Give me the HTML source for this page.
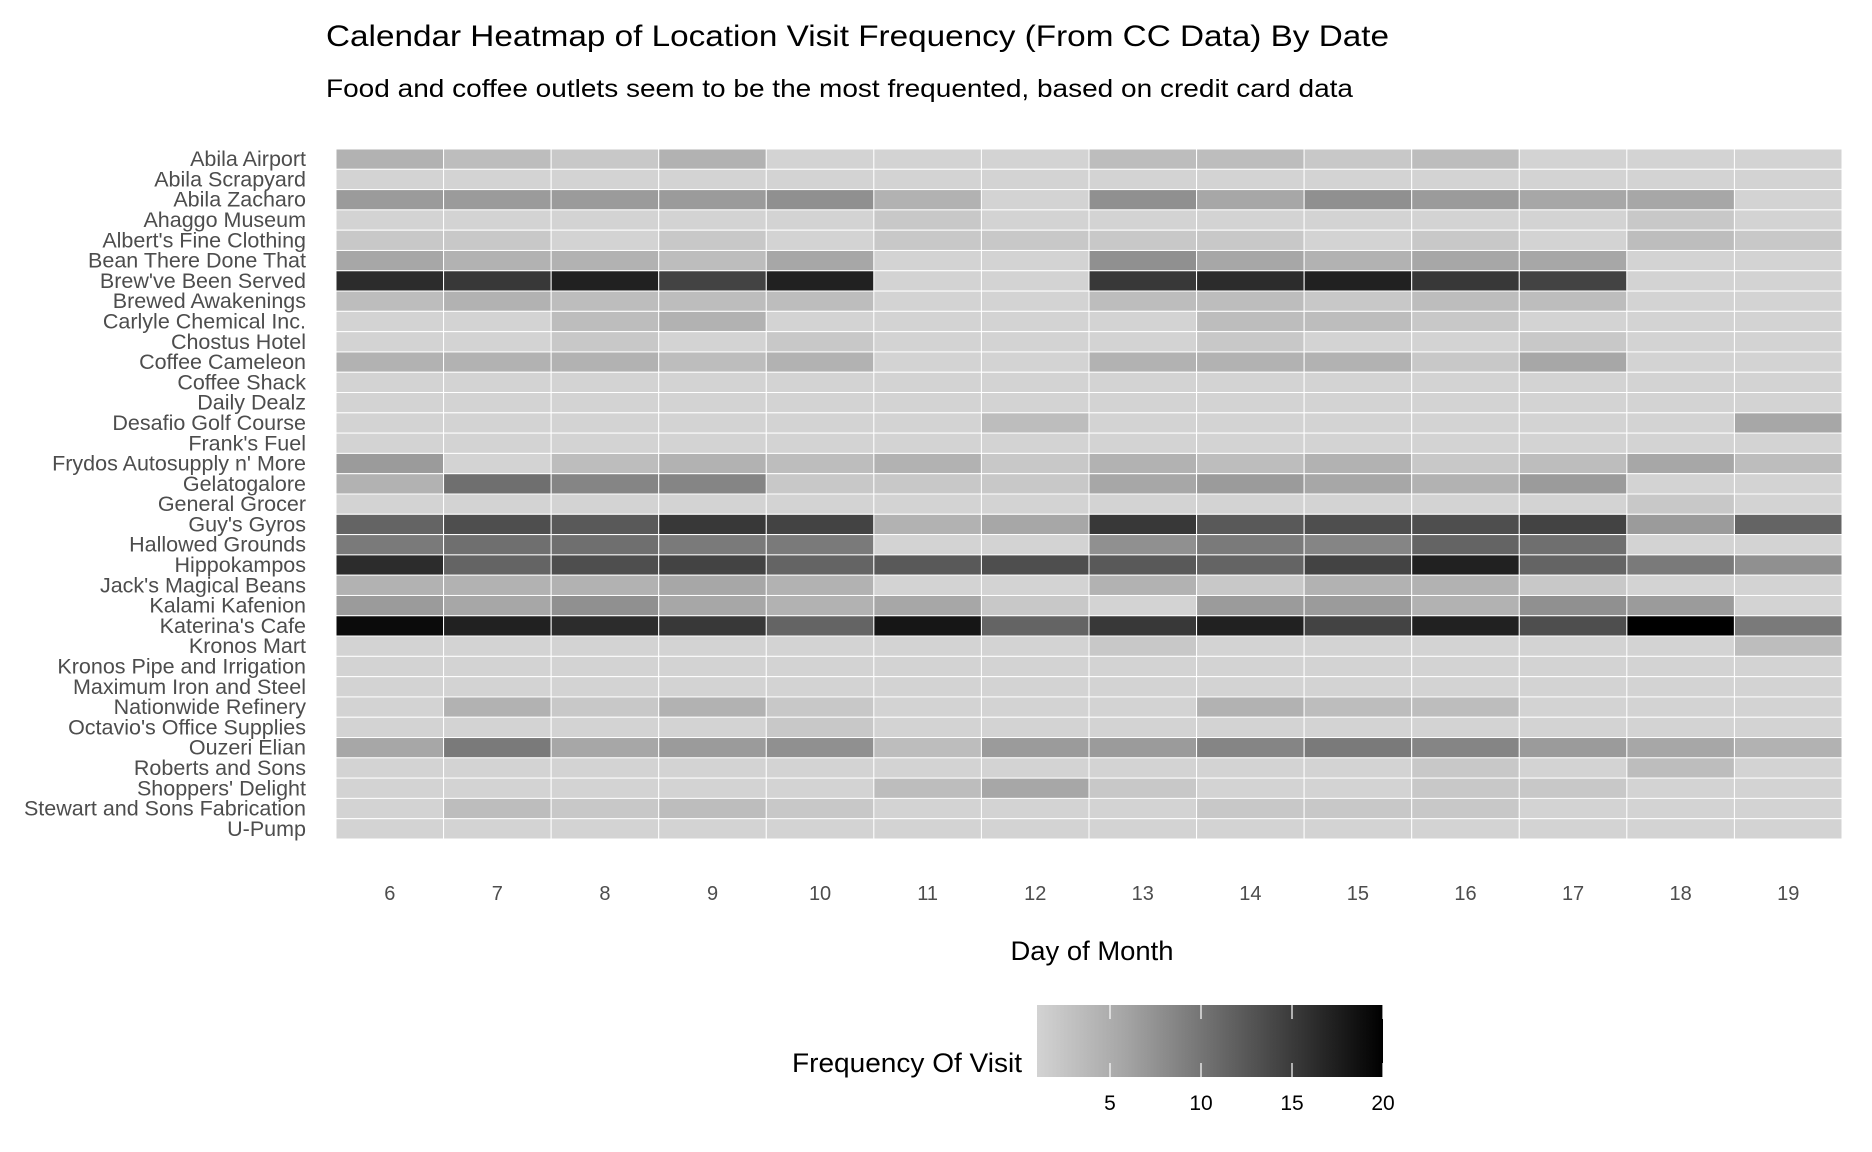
<!DOCTYPE html>
<html><head><meta charset="utf-8"><style>
html,body{margin:0;padding:0;background:#fff;}
svg{display:block;font-family:"Liberation Sans",sans-serif;}
</style></head><body>
<svg id="chart" width="1872" height="1152" viewBox="0 0 1872 1152" xmlns="http://www.w3.org/2000/svg">
<rect width="1872" height="1152" fill="#fff"/>
<text x="326" y="46" font-size="30" fill="#000" textLength="1063" lengthAdjust="spacingAndGlyphs">Calendar Heatmap of Location Visit Frequency (From CC Data) By Date</text>
<text x="326" y="97" font-size="25" fill="#000" textLength="1027" lengthAdjust="spacingAndGlyphs">Food and coffee outlets seem to be the most frequented, based on credit card data</text>
<g id="cells"></g>
<g id="ylabels"></g>
<g id="xlabels"></g>
<text x="1092" y="960" font-size="27" text-anchor="middle" fill="#000" textLength="163" lengthAdjust="spacingAndGlyphs">Day of Month</text>
<defs><linearGradient id="lg" x1="0" x2="1" y1="0" y2="0"><stop offset="0" stop-color="#d3d3d3"/><stop offset="0.25" stop-color="#a6a6a6"/><stop offset="0.5" stop-color="#6f6f6f"/><stop offset="0.75" stop-color="#383838"/><stop offset="1" stop-color="#000"/></linearGradient></defs>
<g id="legend">
<text x="1022" y="1072" font-size="27" text-anchor="end" fill="#000" textLength="230" lengthAdjust="spacingAndGlyphs">Frequency Of Visit</text>
<rect x="1037" y="1005" width="346" height="72" fill="url(#lg)"/>
</g>
<script>
const days = [6,7,8,9,10,11,12,13,14,15,16,17,18,19];
const locations = ["Abila Airport","Abila Scrapyard","Abila Zacharo","Ahaggo Museum","Albert's Fine Clothing","Bean There Done That","Brew've Been Served","Brewed Awakenings","Carlyle Chemical Inc.","Chostus Hotel","Coffee Cameleon","Coffee Shack","Daily Dealz","Desafio Golf Course","Frank's Fuel","Frydos Autosupply n' More","Gelatogalore","General Grocer","Guy's Gyros","Hallowed Grounds","Hippokampos","Jack's Magical Beans","Kalami Kafenion","Katerina's Cafe","Kronos Mart","Kronos Pipe and Irrigation","Maximum Iron and Steel","Nationwide Refinery","Octavio's Office Supplies","Ouzeri Elian","Roberts and Sons","Shoppers' Delight","Stewart and Sons Fabrication","U-Pump"];
const visits = [
[4,3,2,4,1,1,1,3,3,2,3,1,1,1],
[1,1,1,1,1,1,1,1,1,1,1,1,1,1],
[6,6,6,6,7,4,1,7,5,7,6,5,5,1],
[1,1,1,1,1,2,1,1,1,1,1,1,2,1],
[2,2,1,2,1,2,2,2,2,1,2,1,3,2],
[5,4,4,3,5,1,1,7,5,4,5,5,1,1],
[16,15,17,14,17,1,1,15,16,17,15,14,1,1],
[3,4,3,3,3,1,1,3,3,2,3,3,1,1],
[1,1,3,4,1,1,1,1,3,3,2,1,1,1],
[1,1,2,1,2,1,1,1,2,1,1,2,1,1],
[4,4,4,3,4,1,1,4,4,4,2,5,1,1],
[1,1,1,1,1,1,1,1,1,1,1,1,1,1],
[1,1,1,1,1,1,1,1,1,1,1,1,1,1],
[1,1,1,1,1,1,3,1,1,1,1,1,1,5],
[1,1,1,1,1,1,1,1,1,1,1,1,1,1],
[6,1,3,4,3,4,2,4,3,4,2,3,5,3],
[4,10,8,8,2,2,2,5,6,5,4,6,1,1],
[1,1,1,1,1,1,1,1,1,1,1,1,2,1],
[11,13,12,15,14,4,5,15,12,13,13,14,6,11],
[9,10,10,9,9,1,1,7,9,8,11,10,1,1],
[16,11,13,14,11,12,13,12,11,14,17,11,9,7],
[4,4,4,5,4,1,1,4,2,4,4,2,1,1],
[6,5,7,5,4,5,2,1,6,6,4,7,6,1],
[19,17,16,15,11,18,11,15,17,14,17,13,20,9],
[1,1,1,1,1,1,1,2,1,1,1,1,1,3],
[1,1,1,1,1,1,1,1,1,1,1,1,1,1],
[1,1,1,1,1,1,1,1,1,1,1,1,1,1],
[1,4,2,4,2,1,1,1,4,3,3,1,1,1],
[1,1,1,1,2,1,1,1,1,1,1,1,1,1],
[5,9,5,6,7,3,6,6,8,9,8,6,5,4],
[1,1,1,1,1,1,1,1,1,1,2,1,3,1],
[1,1,1,1,1,3,5,2,1,1,2,2,1,1],
[1,3,2,3,2,1,1,1,2,2,2,1,1,1],
[1,1,1,1,1,1,1,1,1,1,1,1,1,1]
];
const legendTicks = [5,10,15,20];
const NS = "http://www.w3.org/2000/svg";
const X0 = 336, X1 = 1842, Y0 = 149, Y1 = 839;
const cw = (X1 - X0) / days.length, ch = (Y1 - Y0) / locations.length;
function xPos(i){ return X0 + i * cw; }
function yPos(j){ return Y0 + j * ch; }
function color(v){ const g = Math.round(211 * (20 - v) / 19); return "rgb(" + g + "," + g + "," + g + ")"; }
function legX(v){ return 1110 + (v - 5) * (273 / 15); }
const cells = document.getElementById("cells");
visits.forEach((row, j) => row.forEach((v, i) => {
  const r = document.createElementNS(NS, "rect");
  r.setAttribute("x", xPos(i)); r.setAttribute("y", yPos(j));
  r.setAttribute("width", cw); r.setAttribute("height", ch);
  r.setAttribute("fill", color(v)); r.setAttribute("stroke", "#fff"); r.setAttribute("stroke-width", "1");
  
  
  cells.appendChild(r);
}));
const yl = document.getElementById("ylabels");
locations.forEach((n, j) => {
  const t = document.createElementNS(NS, "text");
  t.setAttribute("x", 306); t.setAttribute("y", yPos(j) + ch / 2 + 7);
  t.setAttribute("text-anchor", "end"); t.setAttribute("font-size", "21.5"); t.setAttribute("fill", "#4d4d4d");
  t.textContent = n;
  
  
  yl.appendChild(t);
});
const xl = document.getElementById("xlabels");
days.forEach((d, i) => {
  const t = document.createElementNS(NS, "text");
  t.setAttribute("x", xPos(i) + cw / 2); t.setAttribute("y", 900);
  t.setAttribute("text-anchor", "middle"); t.setAttribute("font-size", "20"); t.setAttribute("fill", "#4d4d4d");
  t.textContent = d;
  
  
  xl.appendChild(t);
});
const lg = document.getElementById("legend");
legendTicks.forEach(v => {
  const x = legX(v);
  [[1005, 1019], [1063, 1077]].forEach(([a, b]) => {
    const l = document.createElementNS(NS, "line");
    l.setAttribute("x1", x); l.setAttribute("x2", x); l.setAttribute("y1", a); l.setAttribute("y2", b);
    l.setAttribute("stroke", "#fff"); l.setAttribute("stroke-width", "1.2");
    
    
    lg.appendChild(l);
  });
  const t = document.createElementNS(NS, "text");
  t.setAttribute("x", x); t.setAttribute("y", 1110);
  t.setAttribute("text-anchor", "middle"); t.setAttribute("font-size", "21"); t.setAttribute("fill", "#000");
  t.textContent = v;
  
  
  lg.appendChild(t);
});
</script>
</svg>
</body></html>
